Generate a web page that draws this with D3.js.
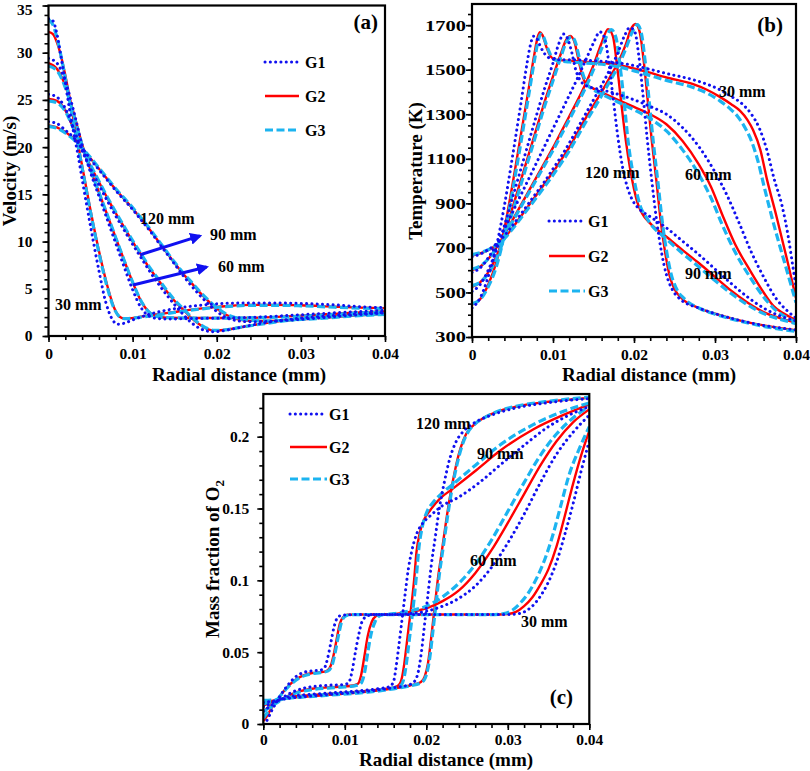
<!DOCTYPE html>
<html><head><meta charset="utf-8">
<script src="https://cdn.jsdelivr.net/npm/d3@7"></script>
<style>
body{margin:0;background:#fff;}
svg text{font-family:"Liberation Serif","Times New Roman",serif;font-weight:bold;fill:#000;}
</style></head><body>
<svg id="chart" width="810" height="771"></svg>
<script>
// ---------------- DATA ----------------
const radialTicks = [0, 0.01, 0.02, 0.03, 0.04];
const velTicks = [0, 5, 10, 15, 20, 25, 30, 35];
const tempTicks = [300, 500, 700, 900, 1100, 1300, 1500, 1700];
const o2Ticks = [0, 0.05, 0.1, 0.15, 0.2];
const gridNames = ["G1", "G2", "G3"];
const heightLabels = ["30 mm", "60 mm", "90 mm", "120 mm"];

// (a) Velocity (m/s) vs radial distance
const velG1_30 = [[0,33.6],[0.0005,33.4],[0.001,32.0],[0.0015,29.5],[0.002,26.8],[0.0025,24.0],[0.003,21.5],[0.0035,19.2],[0.004,16.6],[0.005,11.6],[0.006,6.9],[0.0068,3.6],[0.0075,1.9],[0.0082,1.25],[0.009,1.35],[0.010,1.7],[0.012,2.3],[0.015,2.9],[0.018,3.25],[0.021,3.45],[0.024,3.5],[0.027,3.5],[0.030,3.45],[0.034,3.3],[0.037,3.1],[0.04,3.0]];
const velG2_30 = [[0,32.2],[0.0005,32.0],[0.001,31.1],[0.0015,29.6],[0.002,27.6],[0.0025,25.3],[0.003,22.8],[0.0035,20.4],[0.004,18.0],[0.005,13.3],[0.006,9.0],[0.007,5.3],[0.0078,3.0],[0.0085,2.0],[0.009,1.85],[0.0095,1.85],[0.011,2.05],[0.013,2.3],[0.015,2.55],[0.018,2.9],[0.021,3.15],[0.024,3.3],[0.027,3.3],[0.030,3.25],[0.034,3.1],[0.037,3.0],[0.04,2.95]];
const velG3_30 = [[0,33.5],[0.0005,33.0],[0.001,31.6],[0.0015,29.6],[0.002,27.3],[0.0025,24.9],[0.003,22.5],[0.0035,20.2],[0.004,17.8],[0.005,13.1],[0.006,8.8],[0.007,5.1],[0.0078,2.9],[0.0085,2.0],[0.009,1.85],[0.0095,1.85],[0.011,2.0],[0.013,2.25],[0.015,2.5],[0.018,2.85],[0.021,3.1],[0.024,3.25],[0.027,3.25],[0.030,3.2],[0.034,3.05],[0.037,2.95],[0.04,2.9]];
const velG1_60 = [[0,29.4],[0.001,28.9],[0.002,27.0],[0.003,23.8],[0.004,20.2],[0.005,17.3],[0.006,14.8],[0.007,12.3],[0.008,9.8],[0.009,7.3],[0.010,4.9],[0.011,3.0],[0.012,2.1],[0.013,1.85],[0.014,1.8],[0.017,1.85],[0.021,1.9],[0.025,2.0],[0.029,2.2],[0.033,2.4],[0.037,2.6],[0.04,2.7]];
const velG2_60 = [[0,28.9],[0.001,28.3],[0.002,26.5],[0.003,23.6],[0.004,20.3],[0.005,17.6],[0.006,15.2],[0.007,12.8],[0.008,10.4],[0.009,8.0],[0.010,5.7],[0.011,3.7],[0.012,2.5],[0.013,2.05],[0.014,1.95],[0.017,1.9],[0.021,1.9],[0.025,1.95],[0.029,2.1],[0.033,2.3],[0.037,2.5],[0.04,2.6]];
const velG3_60 = [[0,28.6],[0.001,28.1],[0.002,26.3],[0.003,23.4],[0.004,20.2],[0.005,17.6],[0.006,15.2],[0.007,12.8],[0.008,10.4],[0.009,8.0],[0.010,5.7],[0.011,3.7],[0.012,2.5],[0.013,2.05],[0.014,1.95],[0.017,1.9],[0.021,1.9],[0.025,1.95],[0.029,2.05],[0.033,2.25],[0.037,2.45],[0.04,2.55]];
const velG1_90 = [[0,25.6],[0.001,25.3],[0.002,24.1],[0.003,21.9],[0.004,19.6],[0.005,17.7],[0.006,16.0],[0.007,14.3],[0.008,12.7],[0.009,11.2],[0.010,9.7],[0.011,8.3],[0.012,6.9],[0.013,5.6],[0.014,4.4],[0.015,3.3],[0.016,2.3],[0.017,1.4],[0.018,0.8],[0.019,0.5],[0.0197,0.45],[0.021,0.6],[0.023,0.95],[0.026,1.45],[0.029,1.8],[0.032,2.05],[0.036,2.3],[0.04,2.5]];
const velG2_90 = [[0,25.1],[0.001,24.9],[0.002,23.9],[0.003,21.9],[0.004,19.8],[0.005,18.0],[0.006,16.3],[0.007,14.6],[0.008,13.0],[0.009,11.5],[0.010,10.0],[0.011,8.6],[0.012,7.2],[0.013,6.0],[0.014,4.8],[0.015,3.7],[0.016,2.8],[0.017,1.9],[0.018,1.2],[0.019,0.7],[0.0197,0.55],[0.021,0.65],[0.023,0.95],[0.026,1.4],[0.029,1.75],[0.032,2.0],[0.036,2.25],[0.04,2.4]];
const velG3_90 = [[0,24.9],[0.001,24.7],[0.002,23.8],[0.003,21.9],[0.004,19.9],[0.005,18.1],[0.006,16.4],[0.007,14.7],[0.008,13.1],[0.009,11.6],[0.010,10.1],[0.011,8.7],[0.012,7.3],[0.013,6.1],[0.014,4.9],[0.015,3.8],[0.016,2.9],[0.017,2.0],[0.018,1.25],[0.019,0.75],[0.0197,0.6],[0.021,0.65],[0.023,0.95],[0.026,1.35],[0.029,1.7],[0.032,1.95],[0.036,2.2],[0.04,2.35]];
const velG1_120 = [[0,22.7],[0.001,22.5],[0.002,21.8],[0.003,21.0],[0.004,19.9],[0.005,18.7],[0.006,17.6],[0.007,16.5],[0.008,15.4],[0.009,14.4],[0.010,13.4],[0.011,12.3],[0.012,11.2],[0.013,10.0],[0.014,8.8],[0.015,7.6],[0.016,6.4],[0.017,5.3],[0.018,4.3],[0.019,3.4],[0.020,2.6],[0.021,2.0],[0.022,1.7],[0.023,1.55],[0.024,1.5],[0.026,1.55],[0.029,1.7],[0.032,1.9],[0.036,2.2],[0.04,2.45]];
const velG2_120 = [[0,22.3],[0.001,22.1],[0.002,21.6],[0.003,20.9],[0.004,19.9],[0.005,18.8],[0.006,17.7],[0.007,16.6],[0.008,15.5],[0.009,14.5],[0.010,13.5],[0.011,12.4],[0.012,11.3],[0.013,10.1],[0.014,8.9],[0.015,7.7],[0.016,6.6],[0.017,5.6],[0.018,4.6],[0.019,3.7],[0.020,2.9],[0.021,2.3],[0.022,1.9],[0.023,1.7],[0.024,1.6],[0.026,1.6],[0.029,1.7],[0.032,1.9],[0.036,2.15],[0.04,2.35]];
const velG3_120 = [[0,22.2],[0.001,22.0],[0.002,21.5],[0.003,20.8],[0.004,19.9],[0.005,18.9],[0.006,17.8],[0.007,16.7],[0.008,15.6],[0.009,14.6],[0.010,13.6],[0.011,12.5],[0.012,11.4],[0.013,10.2],[0.014,9.0],[0.015,7.8],[0.016,6.7],[0.017,5.7],[0.018,4.7],[0.019,3.8],[0.020,3.0],[0.021,2.4],[0.022,2.0],[0.023,1.75],[0.024,1.65],[0.026,1.6],[0.029,1.7],[0.032,1.85],[0.036,2.1],[0.04,2.3]];
const velArrows = [[[0.0109,8.6],[0.0180,10.6]], [[0.01005,5.4],[0.0188,7.3]]];

// (b) Temperature (K) vs radial distance
const tempG1_30 = [[0,430],[0.001,475],[0.002,570],[0.003,705],[0.004,890],[0.005,1110],[0.006,1340],[0.0068,1530],[0.0072,1610],[0.0076,1650],[0.008,1640],[0.0085,1600],[0.009,1570],[0.0097,1550],[0.0105,1545],[0.012,1545],[0.014,1542],[0.017,1535],[0.0195,1522],[0.0216,1505],[0.024,1483],[0.0273,1455],[0.029,1435],[0.0306,1410],[0.032,1380],[0.0334,1345],[0.0345,1300],[0.0355,1235],[0.0364,1140],[0.0373,1010],[0.0383,886],[0.039,760],[0.0396,620],[0.04,525]];
const tempG2_30 = [[0,445],[0.001,470],[0.002,535],[0.003,635],[0.004,785],[0.005,985],[0.006,1200],[0.007,1415],[0.0077,1570],[0.0081,1645],[0.0084,1668],[0.0087,1655],[0.0092,1600],[0.0097,1560],[0.0103,1545],[0.012,1540],[0.014,1536],[0.017,1527],[0.0195,1510],[0.0216,1490],[0.024,1465],[0.0273,1435],[0.029,1410],[0.0306,1378],[0.032,1345],[0.0331,1315],[0.034,1275],[0.0347,1229],[0.0356,1140],[0.0364,1010],[0.0376,840],[0.0389,647],[0.04,475]];
const tempG3_30 = [[0,450],[0.001,468],[0.002,525],[0.003,615],[0.004,760],[0.005,955],[0.006,1165],[0.007,1385],[0.0078,1560],[0.0082,1635],[0.0085,1660],[0.0088,1650],[0.0093,1600],[0.0098,1560],[0.0105,1540],[0.012,1535],[0.014,1530],[0.017,1520],[0.0195,1500],[0.0216,1478],[0.024,1452],[0.0273,1420],[0.029,1395],[0.0306,1360],[0.032,1320],[0.0328,1290],[0.0337,1240],[0.0345,1180],[0.0353,1090],[0.0361,970],[0.0373,800],[0.0387,620],[0.04,455]];
const tempG1_60 = [[0,505],[0.001,535],[0.002,600],[0.003,690],[0.004,800],[0.005,925],[0.006,1050],[0.007,1175],[0.008,1300],[0.009,1420],[0.010,1530],[0.0107,1615],[0.0113,1660],[0.0118,1640],[0.0123,1580],[0.0128,1500],[0.0134,1450],[0.014,1430],[0.016,1410],[0.018,1390],[0.020,1365],[0.022,1335],[0.024,1300],[0.026,1240],[0.028,1155],[0.030,1040],[0.0315,935],[0.033,810],[0.0345,680],[0.036,570],[0.0375,475],[0.039,415],[0.04,385]];
const tempG2_60 = [[0,525],[0.001,545],[0.002,590],[0.003,660],[0.004,760],[0.005,880],[0.006,1000],[0.007,1120],[0.008,1240],[0.009,1360],[0.010,1470],[0.011,1575],[0.0115,1625],[0.0121,1652],[0.0126,1630],[0.013,1570],[0.0135,1490],[0.014,1440],[0.015,1415],[0.016,1398],[0.018,1365],[0.020,1333],[0.022,1300],[0.024,1255],[0.026,1180],[0.028,1075],[0.0295,975],[0.031,840],[0.0325,715],[0.0343,600],[0.036,500],[0.0372,440],[0.0385,405],[0.04,375]];
const tempG3_60 = [[0,530],[0.001,545],[0.002,585],[0.003,650],[0.004,745],[0.005,860],[0.006,980],[0.007,1100],[0.008,1220],[0.009,1340],[0.010,1450],[0.011,1560],[0.0116,1620],[0.0123,1648],[0.0128,1620],[0.0132,1560],[0.0137,1480],[0.0142,1435],[0.015,1410],[0.016,1390],[0.018,1355],[0.020,1320],[0.022,1280],[0.024,1225],[0.026,1140],[0.028,1030],[0.0295,925],[0.031,795],[0.0325,680],[0.0343,570],[0.036,480],[0.0372,430],[0.0385,395],[0.04,368]];
const tempG1_90 = [[0,590],[0.001,610],[0.002,655],[0.003,715],[0.004,785],[0.005,860],[0.006,935],[0.007,1010],[0.008,1085],[0.009,1160],[0.010,1235],[0.011,1310],[0.012,1385],[0.013,1460],[0.014,1540],[0.015,1620],[0.0158,1670],[0.0164,1640],[0.0169,1530],[0.0174,1380],[0.018,1200],[0.0186,1060],[0.0192,970],[0.0198,915],[0.0205,880],[0.022,840],[0.024,790],[0.026,730],[0.028,670],[0.030,605],[0.032,540],[0.034,480],[0.036,430],[0.038,395],[0.04,372]];
const tempG2_90 = [[0,600],[0.001,615],[0.002,650],[0.003,700],[0.004,760],[0.005,825],[0.006,890],[0.007,955],[0.008,1020],[0.009,1085],[0.010,1150],[0.011,1220],[0.012,1290],[0.013,1360],[0.014,1435],[0.015,1520],[0.016,1620],[0.0168,1682],[0.0174,1650],[0.0179,1520],[0.0184,1360],[0.019,1180],[0.0195,1060],[0.020,965],[0.0205,895],[0.021,855],[0.022,810],[0.024,750],[0.026,690],[0.028,632],[0.030,570],[0.032,508],[0.034,455],[0.036,412],[0.038,385],[0.04,365]];
const tempG3_90 = [[0,605],[0.001,618],[0.002,650],[0.003,697],[0.004,755],[0.005,818],[0.006,882],[0.007,946],[0.008,1010],[0.009,1074],[0.010,1138],[0.011,1206],[0.012,1275],[0.013,1345],[0.014,1418],[0.015,1500],[0.016,1595],[0.0172,1680],[0.0178,1640],[0.0183,1510],[0.0188,1350],[0.0193,1170],[0.0198,1050],[0.0203,955],[0.0208,885],[0.0214,845],[0.022,810],[0.024,740],[0.026,675],[0.028,615],[0.030,553],[0.032,495],[0.034,445],[0.036,405],[0.038,380],[0.04,360]];
const tempG1_120 = [[0,660],[0.001,672],[0.002,692],[0.003,718],[0.004,755],[0.005,800],[0.006,850],[0.007,900],[0.008,950],[0.009,1000],[0.010,1055],[0.011,1110],[0.012,1170],[0.013,1235],[0.014,1300],[0.015,1365],[0.016,1430],[0.017,1500],[0.018,1575],[0.0188,1650],[0.0195,1690],[0.0201,1670],[0.0206,1560],[0.0211,1390],[0.0216,1200],[0.0222,1000],[0.0228,820],[0.0234,680],[0.024,580],[0.0247,515],[0.0257,470],[0.028,430],[0.030,405],[0.033,375],[0.036,352],[0.04,332]];
const tempG2_120 = [[0,665],[0.001,675],[0.002,690],[0.003,712],[0.004,745],[0.005,790],[0.006,840],[0.007,890],[0.008,940],[0.009,990],[0.010,1040],[0.011,1095],[0.012,1150],[0.013,1215],[0.014,1280],[0.015,1340],[0.016,1400],[0.017,1465],[0.018,1530],[0.019,1615],[0.0196,1680],[0.0202,1705],[0.0207,1670],[0.0212,1540],[0.0217,1360],[0.0222,1180],[0.0228,990],[0.0233,820],[0.0238,690],[0.0244,575],[0.025,515],[0.026,470],[0.028,430],[0.030,405],[0.033,375],[0.036,352],[0.04,330]];
const tempG3_120 = [[0,670],[0.001,678],[0.002,692],[0.003,712],[0.004,742],[0.005,785],[0.006,832],[0.007,880],[0.008,928],[0.009,977],[0.010,1027],[0.011,1080],[0.012,1135],[0.013,1198],[0.014,1262],[0.015,1322],[0.016,1383],[0.017,1447],[0.018,1512],[0.019,1595],[0.0198,1670],[0.0204,1702],[0.0209,1665],[0.0214,1530],[0.0219,1350],[0.0224,1170],[0.023,980],[0.0235,815],[0.024,690],[0.0246,580],[0.0252,520],[0.0262,472],[0.028,430],[0.030,402],[0.033,372],[0.036,348],[0.04,325]];

// (c) Mass fraction of O2 vs radial distance
const o2G1_30 = [[0,0.0],[0.0005,0.003],[0.001,0.009],[0.0015,0.014],[0.002,0.019],[0.003,0.027],[0.004,0.033],[0.005,0.036],[0.006,0.037],[0.007,0.0375],[0.0075,0.039],[0.0079,0.046],[0.0083,0.057],[0.0087,0.068],[0.0091,0.074],[0.0097,0.0758],[0.012,0.0762],[0.016,0.0762],[0.02,0.0762],[0.024,0.0762],[0.028,0.0762],[0.030,0.0762],[0.031,0.0765],[0.032,0.078],[0.033,0.082],[0.034,0.089],[0.035,0.099],[0.036,0.113],[0.037,0.132],[0.038,0.153],[0.039,0.176],[0.04,0.197]];
const o2G2_30 = [[0,0.002],[0.0005,0.006],[0.001,0.011],[0.0015,0.015],[0.002,0.019],[0.003,0.026],[0.004,0.031],[0.005,0.034],[0.006,0.0355],[0.007,0.036],[0.0078,0.037],[0.0083,0.041],[0.0087,0.05],[0.009,0.059],[0.0094,0.07],[0.0098,0.0745],[0.0103,0.076],[0.012,0.0762],[0.016,0.0762],[0.02,0.0762],[0.024,0.0762],[0.028,0.0762],[0.030,0.0766],[0.031,0.078],[0.032,0.082],[0.033,0.088],[0.034,0.097],[0.035,0.108],[0.036,0.124],[0.037,0.145],[0.038,0.167],[0.039,0.187],[0.04,0.204]];
const o2G3_30 = [[0,0.004],[0.0005,0.008],[0.001,0.012],[0.0015,0.0155],[0.002,0.019],[0.003,0.0255],[0.004,0.0305],[0.005,0.0335],[0.006,0.035],[0.007,0.0358],[0.0079,0.0368],[0.0085,0.042],[0.0089,0.052],[0.0092,0.061],[0.0096,0.071],[0.01,0.0748],[0.0105,0.076],[0.012,0.0762],[0.016,0.0762],[0.02,0.0762],[0.024,0.0762],[0.028,0.0762],[0.0295,0.0768],[0.0305,0.079],[0.0315,0.084],[0.0325,0.091],[0.0335,0.101],[0.0345,0.114],[0.0355,0.131],[0.0365,0.152],[0.0375,0.173],[0.0388,0.192],[0.04,0.207]];
const o2G1_60 = [[0,0.009],[0.001,0.013],[0.002,0.017],[0.003,0.0205],[0.004,0.0232],[0.005,0.025],[0.006,0.026],[0.008,0.027],[0.010,0.0275],[0.0105,0.029],[0.0109,0.037],[0.0113,0.05],[0.0117,0.062],[0.0121,0.071],[0.0127,0.075],[0.0135,0.0762],[0.016,0.0762],[0.018,0.0768],[0.02,0.0785],[0.022,0.082],[0.024,0.0875],[0.026,0.096],[0.028,0.109],[0.030,0.126],[0.032,0.146],[0.034,0.168],[0.036,0.188],[0.038,0.203],[0.04,0.215]];
const o2G2_60 = [[0,0.009],[0.001,0.013],[0.002,0.0165],[0.003,0.0195],[0.004,0.022],[0.005,0.0235],[0.006,0.0245],[0.008,0.0255],[0.010,0.0262],[0.011,0.0268],[0.0116,0.028],[0.012,0.034],[0.0124,0.047],[0.0128,0.061],[0.0133,0.071],[0.0138,0.075],[0.0145,0.0762],[0.016,0.0765],[0.018,0.078],[0.02,0.0805],[0.022,0.0855],[0.024,0.093],[0.026,0.105],[0.028,0.121],[0.030,0.14],[0.032,0.16],[0.034,0.18],[0.036,0.197],[0.038,0.21],[0.04,0.219]];
const o2G3_60 = [[0,0.0086],[0.001,0.0125],[0.002,0.016],[0.003,0.019],[0.004,0.0215],[0.005,0.023],[0.006,0.024],[0.008,0.025],[0.010,0.0258],[0.011,0.0264],[0.0119,0.0278],[0.0124,0.035],[0.0128,0.049],[0.0132,0.062],[0.0137,0.071],[0.0142,0.075],[0.0148,0.0762],[0.016,0.0768],[0.018,0.0788],[0.02,0.082],[0.022,0.0885],[0.024,0.098],[0.026,0.111],[0.028,0.128],[0.030,0.148],[0.032,0.168],[0.034,0.187],[0.036,0.202],[0.038,0.213],[0.04,0.221]];
const o2G1_90 = [[0,0.012],[0.001,0.0145],[0.002,0.0168],[0.003,0.0188],[0.005,0.0203],[0.008,0.0215],[0.011,0.0228],[0.014,0.0245],[0.0155,0.026],[0.016,0.03],[0.0163,0.04],[0.0166,0.053],[0.0169,0.067],[0.0172,0.081],[0.0175,0.095],[0.0178,0.108],[0.0182,0.12],[0.0188,0.132],[0.0196,0.14],[0.0205,0.145],[0.022,0.152],[0.024,0.158],[0.0265,0.168],[0.029,0.18],[0.032,0.194],[0.035,0.207],[0.0375,0.215],[0.04,0.221]];
const o2G2_90 = [[0,0.013],[0.001,0.015],[0.002,0.0168],[0.003,0.0185],[0.005,0.0198],[0.008,0.021],[0.011,0.0222],[0.014,0.0238],[0.016,0.0255],[0.0166,0.027],[0.017,0.032],[0.0173,0.042],[0.0176,0.056],[0.0179,0.07],[0.0182,0.084],[0.0185,0.1],[0.0188,0.12],[0.0192,0.133],[0.0198,0.143],[0.0205,0.149],[0.0217,0.157],[0.0233,0.164],[0.0262,0.177],[0.029,0.19],[0.0331,0.205],[0.0372,0.216],[0.04,0.2225]];
const o2G3_90 = [[0,0.014],[0.001,0.0155],[0.002,0.0168],[0.003,0.0183],[0.005,0.0195],[0.008,0.0207],[0.011,0.0219],[0.014,0.0235],[0.016,0.0252],[0.0169,0.027],[0.0173,0.033],[0.0176,0.044],[0.0179,0.058],[0.0182,0.072],[0.0185,0.087],[0.0188,0.104],[0.0191,0.123],[0.0195,0.137],[0.0201,0.148],[0.0208,0.154],[0.022,0.161],[0.0235,0.168],[0.026,0.18],[0.029,0.194],[0.033,0.208],[0.037,0.218],[0.04,0.2235]];
const o2G1_120 = [[0,0.015],[0.001,0.0158],[0.002,0.0168],[0.003,0.0178],[0.005,0.019],[0.008,0.0205],[0.011,0.0218],[0.014,0.0236],[0.016,0.0253],[0.018,0.0275],[0.0186,0.03],[0.019,0.036],[0.0194,0.05],[0.0198,0.07],[0.0202,0.09],[0.0206,0.11],[0.0211,0.13],[0.0216,0.15],[0.0222,0.168],[0.0229,0.185],[0.0237,0.197],[0.0246,0.204],[0.026,0.21],[0.028,0.215],[0.031,0.22],[0.035,0.2237],[0.04,0.2265]];
const o2G2_120 = [[0,0.0155],[0.001,0.016],[0.002,0.017],[0.003,0.018],[0.005,0.019],[0.008,0.0203],[0.011,0.0215],[0.014,0.0232],[0.016,0.0248],[0.018,0.0268],[0.0193,0.029],[0.0198,0.033],[0.0202,0.042],[0.0206,0.06],[0.021,0.08],[0.0214,0.1],[0.0219,0.12],[0.0224,0.14],[0.0229,0.158],[0.0235,0.176],[0.0242,0.192],[0.0249,0.202],[0.0258,0.208],[0.027,0.213],[0.029,0.218],[0.0311,0.221],[0.0352,0.2245],[0.04,0.227]];
const o2G3_120 = [[0,0.0165],[0.001,0.0167],[0.002,0.0172],[0.003,0.018],[0.005,0.0188],[0.008,0.02],[0.011,0.0212],[0.014,0.0229],[0.016,0.0245],[0.018,0.0265],[0.0195,0.0292],[0.02,0.034],[0.0204,0.045],[0.0208,0.064],[0.0212,0.084],[0.0216,0.104],[0.0221,0.124],[0.0226,0.144],[0.0231,0.162],[0.0237,0.179],[0.0244,0.194],[0.0251,0.203],[0.026,0.209],[0.0272,0.2135],[0.0292,0.2185],[0.0313,0.2215],[0.0352,0.2248],[0.04,0.2275]];

// ---------------- DRAWING ----------------
const svg = d3.select("#chart");
svg.append("rect").attr("width", 810).attr("height", 771).attr("fill", "#fff");

const styles = {
  G1: {stroke: "#1010F0", width: 3, dash: "0.1 5.2", cap: "round"},
  G2: {stroke: "#FF0000", width: 2.4, dash: null, cap: "butt"},
  G3: {stroke: "#1CB4F0", width: 3.2, dash: "8 3.5", cap: "butt"}
};
const drawOrder = ["G2", "G3", "G1"];

const panels = [
  {key: "a", box: [48.5, 385, 5.5, 336], yDomain: [0, 35], yTicks: velTicks, yMinor: d3.range(0, 35.01, 1),
   yFmt: d3.format("d"), yPad: 10, yStretch: 1, xLabY: 23,
   series: {G1: [velG1_30, velG1_60, velG1_90, velG1_120], G2: [velG2_30, velG2_60, velG2_90, velG2_120], G3: [velG3_30, velG3_60, velG3_90, velG3_120]},
   xTitle: {x: 239, y: 381}, yTitle: {x: 16, y: 171, text: "Velocity (m/s)"},
   tag: {x: 378, y: 29, text: "(a)"},
   legend: {x1: 265, x2: 299, tx: 305, ys: [62, 96, 130]},
   labels: [{t: heightLabels[3], x: 140, y: 224}, {t: heightLabels[2], x: 210, y: 240}, {t: heightLabels[1], x: 218, y: 272}, {t: heightLabels[0], x: 55, y: 310}],
   arrows: velArrows},
  {key: "b", box: [472, 796, 4, 337], yDomain: [300, 1795], yTicks: tempTicks, yMinor: d3.range(300, 1795, 50),
   yFmt: d3.format("d"), yPad: 0, yStretch: 1.32, xLabY: 23,
   series: {G1: [tempG1_30, tempG1_60, tempG1_90, tempG1_120], G2: [tempG2_30, tempG2_60, tempG2_90, tempG2_120], G3: [tempG3_30, tempG3_60, tempG3_90, tempG3_120]},
   xTitle: {x: 649, y: 381}, yTitle: {x: 422, y: 171, text: "Temperature (K)"},
   tag: {x: 783, y: 32, text: "(b)"},
   legend: {x1: 549, x2: 585, tx: 588, ys: [221, 256, 291]},
   labels: [{t: heightLabels[0], x: 719, y: 97}, {t: heightLabels[3], x: 585, y: 178}, {t: heightLabels[1], x: 685, y: 180}, {t: heightLabels[2], x: 685, y: 279}],
   arrows: []},
  {key: "c", box: [263.3, 589.3, 394, 724], yDomain: [0, 0.2297], yTicks: o2Ticks, yMinor: d3.range(0, 0.2297, 0.01),
   yFmt: d => d === 0 ? "0" : String(d), yPad: 8, yStretch: 1, xLabY: 21,
   series: {G1: [o2G1_30, o2G1_60, o2G1_90, o2G1_120], G2: [o2G2_30, o2G2_60, o2G2_90, o2G2_120], G3: [o2G3_30, o2G3_60, o2G3_90, o2G3_120]},
   xTitle: {x: 446, y: 766}, yTitle: {x: 219, y: 559, text: "Mass fraction of O", sub: "2"},
   tag: {x: 573, y: 704, text: "(c)"},
   legend: {x1: 290, x2: 327, tx: 329, ys: [414, 447, 479]},
   labels: [{t: heightLabels[3], x: 416, y: 429}, {t: heightLabels[2], x: 477, y: 459}, {t: heightLabels[1], x: 470, y: 566}, {t: heightLabels[0], x: 521, y: 627}],
   arrows: []}
];

const defs = svg.append("defs");
defs.append("marker").attr("id", "arrowhead").attr("viewBox", "0 0 10 10")
  .attr("refX", 8).attr("refY", 5).attr("markerWidth", 4).attr("markerHeight", 4)
  .attr("orient", "auto").attr("markerUnits", "strokeWidth")
  .append("path").attr("d", "M0,0 L10,5 L0,10 z").attr("fill", "#1010F0");

panels.forEach(p => {
  const [L, R, T, B] = p.box;
  const x = d3.scaleLinear().domain([0, 0.04]).range([L, R]);
  const y = d3.scaleLinear().domain(p.yDomain).range([B, T]);
  const g = svg.append("g");

  defs.append("clipPath").attr("id", "clip" + p.key).append("rect")
    .attr("x", L).attr("y", T).attr("width", R - L).attr("height", B - T);

  // minor ticks
  g.append("g").attr("transform", `translate(0,${B})`)
    .call(d3.axisBottom(x).tickValues(d3.range(0, 0.0401, 0.002)).tickSize(4).tickFormat(""))
    .call(s => s.select(".domain").remove());
  g.append("g").attr("transform", `translate(${L},0)`)
    .call(d3.axisLeft(y).tickValues(p.yMinor).tickSize(4).tickFormat(""))
    .call(s => s.select(".domain").remove());
  // major axes
  const xa = g.append("g").attr("transform", `translate(0,${B})`)
    .call(d3.axisBottom(x).tickValues(radialTicks).tickSize(6).tickPadding(p.xLabY - 6 - 11).tickFormat(d => d === 0 ? "0" : String(d)));
  const ya = g.append("g").attr("transform", `translate(${L},0)`)
    .call(d3.axisLeft(y).tickValues(p.yTicks).tickSize(6).tickPadding(p.yPad).tickFormat(p.yFmt));
  [xa, ya].forEach(a => {
    a.selectAll("text").style("font-family", '"Liberation Serif", serif').style("font-weight", "bold").style("font-size", "15.5px").attr("fill", "#000");
    a.select(".domain").remove();
  });
  // keep the topmost tick label inside the picture
  ya.selectAll(".tick").filter(d => y(d) < 10).select("text").attr("dy", "0.55em");
  if (p.yStretch !== 1) {
    ya.selectAll(".tick text").each(function () {
      const t = d3.select(this);
      const tx = +t.attr("x");
      t.attr("x", tx / p.yStretch).attr("transform", `scale(${p.yStretch},1)`);
    });
  }
  g.selectAll("line").attr("stroke", "#000").attr("stroke-width", 1.6);

  // series
  const line = d3.line().x(d => x(d[0])).y(d => y(d[1])).curve(d3.curveMonotoneX);
  const sg = g.append("g").attr("clip-path", `url(#clip${p.key})`);
  drawOrder.forEach(name => {
    const st = styles[name];
    p.series[name].forEach(data => {
      sg.append("path").datum(data).attr("d", line).attr("fill", "none")
        .attr("stroke", st.stroke).attr("stroke-width", st.width)
        .attr("stroke-dasharray", st.dash).attr("stroke-linecap", st.cap);
    });
  });

  // frame
  g.append("rect").attr("x", L).attr("y", T).attr("width", R - L).attr("height", B - T)
    .attr("fill", "none").attr("stroke", "#000").attr("stroke-width", 2.2);

  // arrows
  p.arrows.forEach(a => {
    g.append("line").attr("x1", x(a[0][0])).attr("y1", y(a[0][1]))
      .attr("x2", x(a[1][0])).attr("y2", y(a[1][1]))
      .attr("stroke", "#1010F0").attr("stroke-width", 3).attr("marker-end", "url(#arrowhead)");
  });

  // legend
  gridNames.forEach((name, i) => {
    const st = styles[name];
    const ly = p.legend.ys[i];
    g.append("line").attr("x1", p.legend.x1).attr("x2", p.legend.x2).attr("y1", ly).attr("y2", ly)
      .attr("stroke", st.stroke).attr("stroke-width", st.width)
      .attr("stroke-dasharray", st.dash).attr("stroke-linecap", st.cap);
    g.append("text").attr("x", p.legend.tx).attr("y", ly + 5.5).style("font-size", "16px").text(name);
  });

  // curve labels
  p.labels.forEach(l => g.append("text").attr("x", l.x).attr("y", l.y).style("font-size", "16px").text(l.t));

  // tag
  g.append("text").attr("x", p.tag.x).attr("y", p.tag.y).attr("text-anchor", "end").style("font-size", "21px").text(p.tag.text);

  // titles
  g.append("text").attr("x", p.xTitle.x).attr("y", p.xTitle.y).attr("text-anchor", "middle")
    .style("font-size", "19px").text("Radial distance (mm)");
  const yt = g.append("text").attr("transform", `translate(${p.yTitle.x},${p.yTitle.y}) rotate(-90)`)
    .attr("text-anchor", "middle").style("font-size", "19px").text(p.yTitle.text);
  if (p.yTitle.sub) yt.append("tspan").attr("dy", 5).style("font-size", "13px").text(p.yTitle.sub);
});
</script>
</body></html>
